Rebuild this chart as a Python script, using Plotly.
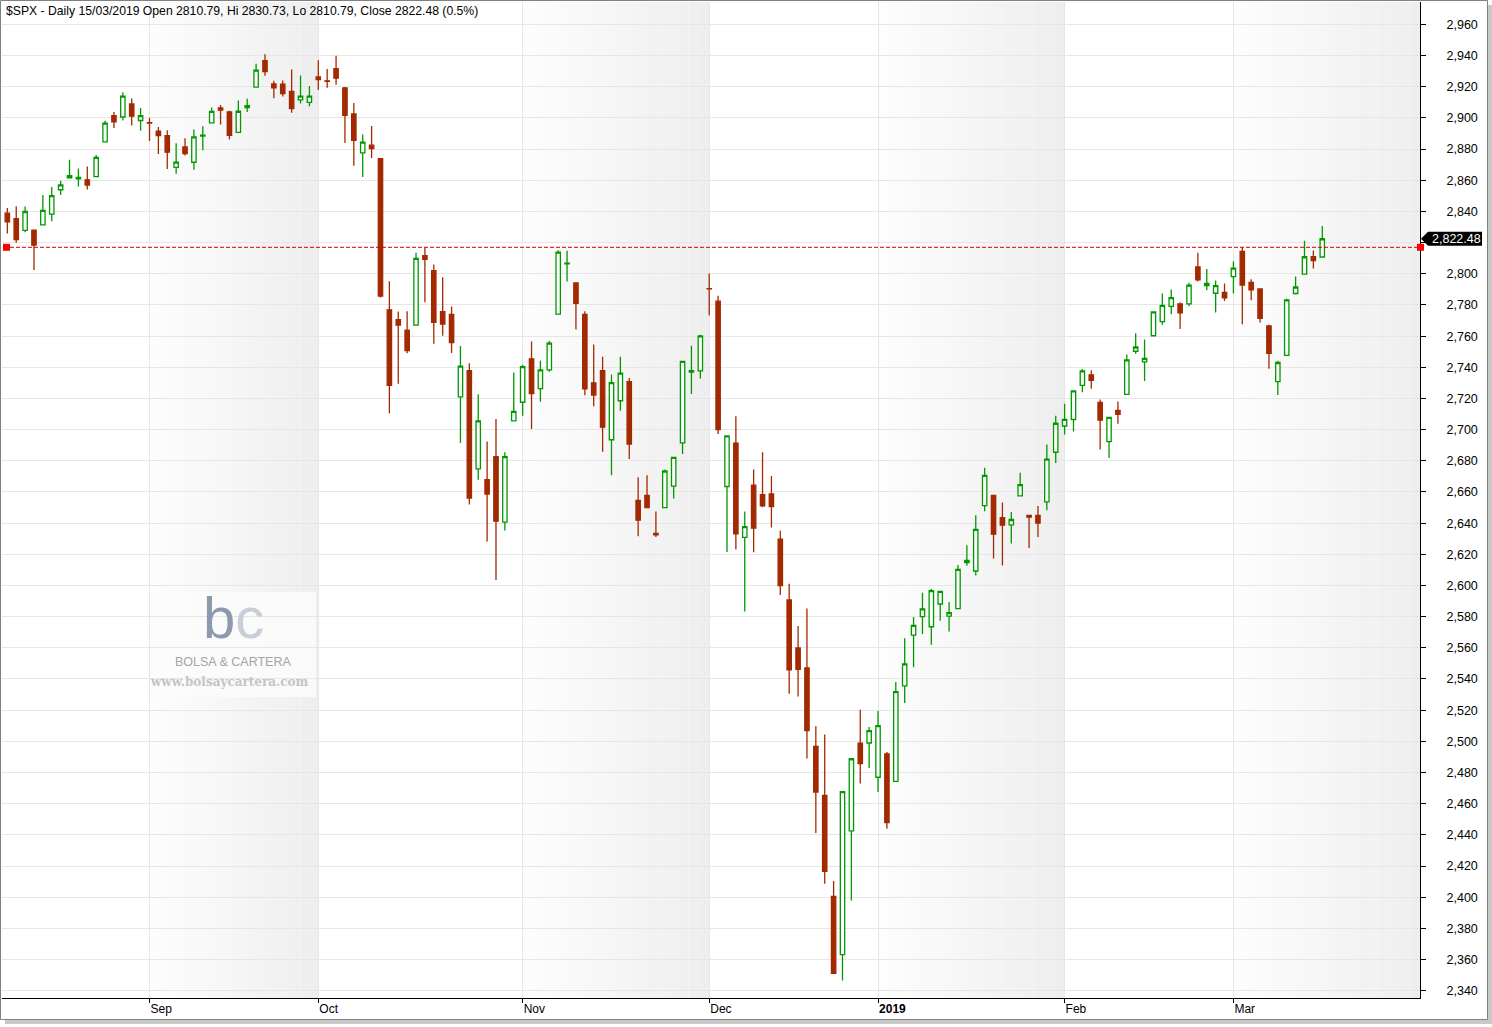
import plotly.graph_objects as go

# ---------------- data ----------------
dates = [
    "2018-08-10", "2018-08-13", "2018-08-14", "2018-08-15", "2018-08-16", "2018-08-17",
    "2018-08-20", "2018-08-21", "2018-08-22", "2018-08-23", "2018-08-24",
    "2018-08-27", "2018-08-28", "2018-08-29", "2018-08-30", "2018-08-31",
    "2018-09-04", "2018-09-05", "2018-09-06", "2018-09-07",
    "2018-09-10", "2018-09-11", "2018-09-12", "2018-09-13", "2018-09-14",
    "2018-09-17", "2018-09-18", "2018-09-19", "2018-09-20", "2018-09-21",
    "2018-09-24", "2018-09-25", "2018-09-26", "2018-09-27", "2018-09-28",
    "2018-10-01", "2018-10-02", "2018-10-03", "2018-10-04", "2018-10-05",
    "2018-10-08", "2018-10-09", "2018-10-10", "2018-10-11", "2018-10-12",
    "2018-10-15", "2018-10-16", "2018-10-17", "2018-10-18", "2018-10-19",
    "2018-10-22", "2018-10-23", "2018-10-24", "2018-10-25", "2018-10-26",
    "2018-10-29", "2018-10-30", "2018-10-31", "2018-11-01", "2018-11-02",
    "2018-11-05", "2018-11-06", "2018-11-07", "2018-11-08", "2018-11-09",
    "2018-11-12", "2018-11-13", "2018-11-14", "2018-11-15", "2018-11-16",
    "2018-11-19", "2018-11-20", "2018-11-21", "2018-11-23",
    "2018-11-26", "2018-11-27", "2018-11-28", "2018-11-29", "2018-11-30",
    "2018-12-03", "2018-12-04", "2018-12-06", "2018-12-07",
    "2018-12-10", "2018-12-11", "2018-12-12", "2018-12-13", "2018-12-14",
    "2018-12-17", "2018-12-18", "2018-12-19", "2018-12-20", "2018-12-21",
    "2018-12-24", "2018-12-26", "2018-12-27", "2018-12-28", "2018-12-31",
    "2019-01-02", "2019-01-03", "2019-01-04",
    "2019-01-07", "2019-01-08", "2019-01-09", "2019-01-10", "2019-01-11",
    "2019-01-14", "2019-01-15", "2019-01-16", "2019-01-17", "2019-01-18",
    "2019-01-22", "2019-01-23", "2019-01-24", "2019-01-25",
    "2019-01-28", "2019-01-29", "2019-01-30", "2019-01-31", "2019-02-01",
    "2019-02-04", "2019-02-05", "2019-02-06", "2019-02-07", "2019-02-08",
    "2019-02-11", "2019-02-12", "2019-02-13", "2019-02-14", "2019-02-15",
    "2019-02-19", "2019-02-20", "2019-02-21", "2019-02-22",
    "2019-02-25", "2019-02-26", "2019-02-27", "2019-02-28", "2019-03-01",
    "2019-03-04", "2019-03-05", "2019-03-06", "2019-03-07", "2019-03-08",
    "2019-03-11", "2019-03-12", "2019-03-13", "2019-03-14", "2019-03-15",
]

opens = [
    2838.90, 2835.46, 2827.88, 2827.95, 2831.44, 2838.32,
    2853.93, 2861.51, 2860.99, 2860.29, 2862.35,
    2884.69, 2901.45, 2900.62, 2908.94, 2898.37,
    2896.96, 2891.59, 2888.64, 2868.26,
    2881.39, 2871.57, 2888.29, 2896.85, 2906.38,
    2903.83, 2890.74, 2906.60, 2919.73, 2936.76,
    2921.83, 2921.75, 2916.98, 2911.65, 2910.03,
    2926.29, 2923.80, 2931.69, 2919.35, 2902.54,
    2877.53, 2882.51, 2873.90, 2776.87, 2770.54,
    2763.83, 2767.05, 2811.67, 2802.00, 2775.66,
    2773.94, 2721.03, 2737.87, 2674.88, 2667.86,
    2682.65, 2640.68, 2705.60, 2717.58, 2745.45,
    2726.37, 2738.40, 2774.13, 2806.38, 2794.10,
    2773.93, 2730.05, 2737.90, 2693.52, 2718.54,
    2730.74, 2654.60, 2657.74, 2633.36,
    2649.97, 2663.75, 2691.45, 2736.97, 2737.76,
    2790.50, 2782.43, 2663.51, 2691.26,
    2630.86, 2664.44, 2658.23, 2658.70, 2629.68,
    2590.75, 2559.90, 2547.05, 2496.77, 2465.38,
    2400.56, 2363.12, 2442.50, 2498.77, 2498.94,
    2476.96, 2491.92, 2474.33,
    2535.61, 2568.11, 2580.00, 2573.51, 2588.11,
    2580.31, 2585.10, 2614.75, 2609.28, 2651.27,
    2657.88, 2643.48, 2638.84, 2657.44,
    2644.97, 2644.89, 2653.62, 2685.49, 2702.32,
    2706.49, 2728.34, 2735.05, 2717.53, 2692.36,
    2712.40, 2722.61, 2750.30, 2743.50, 2760.24,
    2769.28, 2779.05, 2780.67, 2780.67,
    2804.35, 2792.36, 2787.50, 2788.11, 2798.22,
    2814.37, 2794.41, 2790.27, 2766.53, 2730.79,
    2747.61, 2787.34, 2799.78, 2811.02, 2810.79,
]

highs = [
    2842.20, 2843.40, 2843.11, 2827.95, 2850.49, 2855.63,
    2859.76, 2873.23, 2867.54, 2868.78, 2876.16,
    2898.25, 2903.77, 2916.50, 2912.46, 2906.32,
    2900.18, 2894.21, 2892.05, 2883.81,
    2886.93, 2892.52, 2894.65, 2906.76, 2908.30,
    2904.65, 2911.17, 2912.36, 2934.80, 2940.91,
    2923.79, 2923.95, 2931.15, 2927.22, 2920.53,
    2937.06, 2931.42, 2939.86, 2919.78, 2909.64,
    2889.45, 2894.83, 2874.02, 2795.14, 2775.77,
    2775.99, 2813.46, 2816.94, 2806.04, 2797.77,
    2778.94, 2753.59, 2742.59, 2722.70, 2692.38,
    2706.85, 2685.43, 2736.69, 2741.67, 2756.55,
    2744.27, 2756.82, 2815.15, 2814.75, 2794.10,
    2775.99, 2754.60, 2746.80, 2735.38, 2746.75,
    2733.16, 2669.44, 2670.73, 2647.55,
    2674.35, 2682.53, 2744.00, 2753.75, 2760.88,
    2800.18, 2785.93, 2696.15, 2708.54,
    2647.51, 2674.35, 2685.44, 2670.19, 2635.07,
    2601.13, 2573.99, 2585.29, 2509.63, 2504.41,
    2410.34, 2467.76, 2489.10, 2520.27, 2509.24,
    2519.49, 2493.14, 2538.07,
    2566.16, 2579.82, 2595.32, 2597.82, 2596.27,
    2589.32, 2613.08, 2625.76, 2645.06, 2675.47,
    2657.88, 2653.19, 2647.20, 2672.38,
    2644.97, 2650.93, 2690.44, 2708.95, 2716.66,
    2724.99, 2738.98, 2738.08, 2719.32, 2708.07,
    2718.05, 2748.19, 2761.85, 2757.90, 2775.66,
    2787.33, 2789.88, 2781.58, 2794.20,
    2813.49, 2803.12, 2795.76, 2793.73, 2808.02,
    2816.88, 2796.44, 2790.27, 2767.25, 2744.13,
    2784.00, 2798.32, 2821.24, 2815.00, 2830.73,
]

lows = [
    2825.81, 2819.88, 2826.58, 2802.49, 2831.44, 2833.73,
    2850.62, 2861.32, 2856.05, 2854.03, 2862.35,
    2884.69, 2893.50, 2898.40, 2895.22, 2891.73,
    2885.13, 2876.92, 2867.29, 2864.12,
    2875.94, 2866.78, 2879.20, 2896.39, 2895.77,
    2886.16, 2890.43, 2903.82, 2919.73, 2927.11,
    2912.63, 2913.70, 2903.28, 2909.27, 2907.50,
    2917.91, 2919.37, 2921.36, 2883.92, 2869.29,
    2862.08, 2874.27, 2784.86, 2710.51, 2729.44,
    2749.03, 2766.91, 2781.81, 2755.18, 2760.27,
    2749.22, 2691.43, 2651.89, 2667.84, 2628.16,
    2603.54, 2635.34, 2705.60, 2708.85, 2700.44,
    2717.94, 2737.08, 2774.13, 2794.99, 2764.24,
    2722.00, 2714.98, 2685.75, 2670.75, 2712.16,
    2681.09, 2631.52, 2649.82, 2631.09,
    2649.97, 2655.89, 2684.38, 2722.94, 2732.76,
    2773.38, 2697.18, 2621.53, 2623.14,
    2583.23, 2621.30, 2650.26, 2637.27, 2593.84,
    2530.54, 2528.71, 2488.96, 2441.18, 2408.55,
    2351.10, 2346.58, 2397.94, 2472.89, 2482.82,
    2467.47, 2443.96, 2474.33,
    2524.56, 2547.56, 2568.89, 2562.02, 2577.40,
    2570.41, 2585.10, 2612.68, 2606.36, 2647.58,
    2617.27, 2612.86, 2627.01, 2657.33,
    2624.06, 2631.05, 2648.34, 2678.65, 2696.88,
    2698.75, 2724.03, 2726.27, 2687.26, 2681.83,
    2703.79, 2722.61, 2748.63, 2731.23, 2760.24,
    2767.29, 2774.06, 2764.55, 2779.11,
    2794.99, 2789.47, 2775.13, 2782.51, 2787.38,
    2767.66, 2782.97, 2768.69, 2739.09, 2722.27,
    2747.61, 2786.73, 2799.78, 2803.46, 2810.79,
]

closes = [
    2833.28, 2821.93, 2839.96, 2818.37, 2840.69, 2850.13,
    2857.05, 2862.96, 2861.82, 2856.98, 2874.69,
    2896.74, 2897.52, 2914.04, 2901.13, 2901.52,
    2896.72, 2888.60, 2878.05, 2871.68,
    2877.13, 2887.89, 2888.92, 2904.18, 2904.98,
    2888.80, 2904.31, 2907.95, 2930.75, 2929.67,
    2919.37, 2915.56, 2905.97, 2914.00, 2913.98,
    2924.59, 2923.43, 2925.51, 2901.61, 2885.57,
    2884.43, 2880.34, 2785.68, 2728.37, 2767.13,
    2750.79, 2809.92, 2809.21, 2768.78, 2767.78,
    2755.88, 2740.69, 2656.10, 2705.57, 2658.69,
    2641.25, 2682.63, 2711.74, 2740.37, 2723.06,
    2738.31, 2755.45, 2813.89, 2806.83, 2781.01,
    2726.22, 2722.18, 2701.58, 2730.20, 2736.27,
    2690.73, 2641.89, 2649.93, 2632.56,
    2673.45, 2682.17, 2743.79, 2737.80, 2760.17,
    2790.37, 2700.06, 2695.95, 2633.08,
    2637.72, 2636.78, 2651.07, 2650.54, 2599.95,
    2545.94, 2546.16, 2506.96, 2467.42, 2416.62,
    2351.10, 2467.70, 2488.83, 2485.74, 2506.85,
    2510.03, 2447.89, 2531.94,
    2549.69, 2574.41, 2584.96, 2596.64, 2596.26,
    2582.61, 2610.30, 2616.10, 2635.96, 2670.71,
    2632.90, 2638.70, 2642.33, 2664.76,
    2643.85, 2640.00, 2681.05, 2704.10, 2706.53,
    2724.87, 2737.70, 2731.61, 2706.05, 2707.88,
    2709.80, 2744.73, 2753.03, 2745.73, 2775.60,
    2779.76, 2784.70, 2774.88, 2792.67,
    2796.11, 2793.90, 2792.38, 2784.49, 2803.69,
    2792.81, 2789.65, 2771.45, 2748.93, 2743.07,
    2783.30, 2791.52, 2810.92, 2808.48, 2822.48,
]

# x tick labels for the first trading day of each month (Sep .. Mar)
month_labels = ["Sep", "Oct", "Nov", "Dec", "<b>2019</b>", "Feb", "Mar"]
# y tick values (every 20 points)
y_tick_vals = list(range(2340, 2961, 20))
ref_line_level = 2817.0   # dashed reference line as drawn in the chart

# ---------------- styling ----------------
RED = "#A32A00"
GREEN = "#009900"
GRID = "#e6e6e6"
FONT = "Liberation Sans"

W, H = 1492, 1027
PL, PR, PT, PB = 2, 1420, 2, 998
X_RANGE = [-0.6, 159.0]
Y_RANGE = [2335.3, 2974.4]


def paper_x(px):
    return (px - PL) / (PR - PL)


def paper_y(py):
    return (PB - py) / (PB - PT)


xs = list(range(len(dates)))
month_starts = [i for i in range(1, len(dates)) if dates[i][5:7] != dates[i - 1][5:7]]
last_close = closes[-1]
# the tick label hidden behind the last-price tag is left blank
y_tick_text = ["" if abs(v - last_close) < 8 else f"{v:,d}" for v in y_tick_vals]

fig = go.Figure()
fig.add_trace(go.Candlestick(
    x=xs, open=opens, high=highs, low=lows, close=closes,
    increasing=dict(line=dict(color=GREEN, width=1.3), fillcolor="white"),
    decreasing=dict(line=dict(color=RED, width=1.3), fillcolor=RED),
    whiskerwidth=0, showlegend=False, hoverinfo="skip",
))

shapes = []
# alternate month shading with a horizontal gradient (Sep, Nov, Jan, Mar)
edges = month_starts + [X_RANGE[1]]
n_strips = 18
for k in range(0, len(month_starts), 2):
    a, b = edges[k], edges[k + 1]
    for s in range(n_strips):
        t = s / (n_strips - 1)
        g = int(round(253 - 15 * t))
        shapes.append(dict(
            type="rect", xref="x", yref="paper",
            x0=a + (b - a) * s / n_strips, x1=a + (b - a) * (s + 1) / n_strips,
            y0=0, y1=1, fillcolor=f"rgb({g},{g},{g})", line=dict(width=0),
            layer="below",
        ))

# watermark box
shapes.append(dict(type="rect", xref="paper", yref="paper",
                   x0=paper_x(150), x1=paper_x(316), y0=paper_y(697), y1=paper_y(592),
                   fillcolor="rgba(252,252,252,0.85)", line=dict(width=0), layer="below"))

# dashed reference line + red squares
shapes.append(dict(type="line", xref="paper", yref="y", x0=paper_x(10), x1=1,
                   y0=ref_line_level, y1=ref_line_level,
                   line=dict(color="#d00000", width=1, dash="4px,2px")))
shapes.append(dict(type="rect", xref="paper", yref="y", xsizemode="pixel", ysizemode="pixel",
                   xanchor=0, yanchor=ref_line_level, x0=1, x1=8, y0=-3.5, y1=3.5,
                   fillcolor="#ff0000", line=dict(width=0)))
shapes.append(dict(type="rect", xref="paper", yref="y", xsizemode="pixel", ysizemode="pixel",
                   xanchor=1, yanchor=ref_line_level, x0=-3, x1=4, y0=-3.5, y1=3.5,
                   fillcolor="#ff0000", line=dict(width=0)))

# last price tag (black pointer box)
shapes.append(dict(type="path", xref="paper", yref="y", xsizemode="pixel", ysizemode="pixel",
                   xanchor=1, yanchor=last_close,
                   path="M 1,0 L 8,7 L 62,7 L 62,-7 L 8,-7 Z",
                   fillcolor="black", line=dict(width=0)))

# outer frame + shadow
shapes.append(dict(type="rect", xref="paper", yref="paper",
                   x0=paper_x(1488), x1=paper_x(1492), y0=paper_y(1024), y1=paper_y(5),
                   fillcolor="#c8c8c8", line=dict(width=0)))
shapes.append(dict(type="rect", xref="paper", yref="paper",
                   x0=paper_x(5), x1=paper_x(1492), y0=paper_y(1024), y1=paper_y(1020),
                   fillcolor="#c8c8c8", line=dict(width=0)))
shapes.append(dict(type="rect", xref="paper", yref="paper",
                   x0=paper_x(0.5), x1=paper_x(1487.5), y0=paper_y(1019.5), y1=paper_y(0.5),
                   fillcolor="rgba(0,0,0,0)", line=dict(color="#808080", width=1)))

pct = (closes[-1] / closes[-2] - 1) * 100
title = (f"$SPX - Daily 15/03/2019 Open {opens[-1]:.2f}, Hi {highs[-1]:.2f}, "
         f"Lo {lows[-1]:.2f}, Close {closes[-1]:.2f} ({pct:.1f}%)")

annotations = [
    dict(text=title, xref="paper", yref="paper", x=paper_x(4), y=paper_y(2),
         xanchor="left", yanchor="top", showarrow=False,
         font=dict(family=FONT, size=12.2, color="#000")),
    dict(text=f"{last_close:,.2f}", xref="paper", yref="y", x=1, y=last_close,
         xanchor="center", yanchor="middle", xshift=36, showarrow=False,
         font=dict(family=FONT, size=12.5, color="white")),
    # watermark
    dict(text="b<span style='color:#c9cfd8'>c</span>", xref="paper", yref="paper",
         x=paper_x(233), y=paper_y(618),
         xanchor="center", yanchor="middle", showarrow=False,
         font=dict(family="Liberation Sans", size=58, color="#8d9aad")),
    dict(text="BOLSA &amp; CARTERA", xref="paper", yref="paper", x=paper_x(233), y=paper_y(662),
         xanchor="center", yanchor="middle", showarrow=False,
         font=dict(family="Liberation Sans", size=12.5, color="#a4a4a4")),
    dict(text="<b>www.bolsaycartera.com</b>", xref="paper", yref="paper", x=paper_x(229), y=paper_y(682),
         xanchor="center", yanchor="middle", showarrow=False,
         font=dict(family="DejaVu Serif", size=12, color="#c4c4c4")),
]

fig.update_layout(
    width=W, height=H,
    margin=dict(l=PL, r=W - PR, t=PT, b=H - PB, pad=0),
    paper_bgcolor="white", plot_bgcolor="white",
    showlegend=False,
    shapes=shapes, annotations=annotations,
    xaxis=dict(
        range=X_RANGE, tickmode="array", tickvals=month_starts, ticktext=month_labels,
        ticks="outside", ticklen=4, tickcolor="#000", tickwidth=1,
        ticklabelposition="outside right",
        showline=True, linecolor="#000", linewidth=1,
        showgrid=True, gridcolor=GRID, gridwidth=1, zeroline=False,
        rangeslider=dict(visible=False),
        tickfont=dict(family=FONT, size=12, color="#000"),
        fixedrange=True,
    ),
    yaxis=dict(
        side="right", range=Y_RANGE, tickmode="array",
        tickvals=y_tick_vals, ticktext=y_tick_text,
        ticks="outside", ticklen=5, tickcolor="#000", tickwidth=1,
        ticklabelstandoff=18,
        showline=True, linecolor="#000", linewidth=1,
        showgrid=True, gridcolor=GRID, gridwidth=1, zeroline=False,
        tickfont=dict(family=FONT, size=12.5, color="#000"),
        fixedrange=True,
    ),
)

fig.write_html("out.html", config={"displayModeBar": False},
               post_script="document.body.style.margin='0';")
